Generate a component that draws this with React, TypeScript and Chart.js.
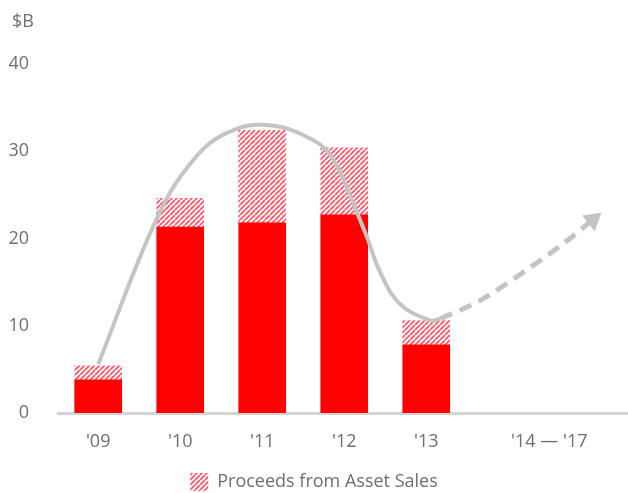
import React, { useEffect, useRef } from "react";
import { Chart, registerables } from "chart.js";

Chart.register(...registerables);

// ---- data ----
const categories = ["'09", "'10", "'11", "'12", "'13", "'14 — '17"];
const categoryPos = [0, 1, 2, 3, 4, 5.5];
const coreValues = [3.8, 21.3, 21.8, 22.7, 7.8];
const assetSalesValues = [1.6, 3.3, 10.6, 7.7, 2.8];
const trendX = [0, 0.72, 1.16, 1.57, 2.06, 2.62, 2.87, 3.11, 3.28, 3.44, 3.68, 4.05, 4.17];
const trendY = [5.6, 22.4, 29.0, 32.1, 33.0, 31.3, 29.0, 24.0, 20.1, 16.1, 12.5, 10.6, 10.8];
const outlookX = [4.17, 4.66, 5.27, 5.67, 6.09];
const outlookY = [10.8, 12.9, 16.7, 19.4, 22.6];
const yTicks = [0, 10, 20, 30, 40];
const unitLabel = "$B";
const legendLabel = "Proceeds from Asset Sales";

const RED = "#fe0000";
const GREY = "#c4c4c4";
const TEXT = "#6f6f6f";
const FONT = "'Open Sans', 'Noto Sans', sans-serif";
const FS = 18;

function makeHatch(): CanvasPattern | string {
  const c = document.createElement("canvas");
  const s = 5;
  c.width = s;
  c.height = s;
  const g = c.getContext("2d");
  if (!g) return RED;
  g.fillStyle = "#ffffff";
  g.fillRect(0, 0, s, s);
  g.strokeStyle = "#ff5566";
  g.lineWidth = 1.8;
  g.beginPath();
  for (let k = -1; k <= 1; k++) {
    g.moveTo(k * s, s);
    g.lineTo(k * s + s, 0);
  }
  g.stroke();
  const p = g.createPattern(c, "repeat");
  return p || RED;
}

export default function App() {
  const ref = useRef<HTMLCanvasElement | null>(null);

  useEffect(() => {
    document.body.style.margin = "0";
    const canvas = ref.current;
    if (!canvas) return;
    const hatch = makeHatch();

    const extraPlugin = {
      id: "extras",
      afterDatasetsDraw(chart: any) {
        const ctx = chart.ctx;
        const meta = chart.getDatasetMeta(3);
        const pts = meta.data;
        if (pts && pts.length > 1) {
          const a = pts[pts.length - 2];
          const b = pts[pts.length - 1];
          const ang = Math.atan2(b.y - a.y, b.x - a.x);
          const len = 17;
          const half = 10;
          const tx = b.x + Math.cos(ang) * 5;
          const ty = b.y + Math.sin(ang) * 5;
          ctx.save();
          ctx.fillStyle = GREY;
          ctx.beginPath();
          ctx.moveTo(tx, ty);
          ctx.lineTo(tx - len * Math.cos(ang) - half * Math.sin(ang), ty - len * Math.sin(ang) + half * Math.cos(ang));
          ctx.lineTo(tx - len * Math.cos(ang) + half * Math.sin(ang), ty - len * Math.sin(ang) - half * Math.cos(ang));
          ctx.closePath();
          ctx.fill();
          ctx.restore();
        }
      },
      afterDraw(chart: any) {
        const ctx = chart.ctx;
        ctx.save();
        ctx.fillStyle = TEXT;
        ctx.font = `${FS}px ${FONT}`;
        ctx.textBaseline = "middle";
        ctx.textAlign = "left";
        ctx.fillText(unitLabel, 12, 22);
        ctx.restore();
      },
    };

    const chart = new Chart(canvas, {
      type: "bar",
      data: {
        datasets: [
          {
            type: "bar",
            label: "Core",
            data: coreValues.map((v, i) => ({ x: categoryPos[i], y: v })),
            backgroundColor: RED,
            borderWidth: 0,
            barThickness: 47,
            stack: "bars",
            order: 2,
          } as any,
          {
            type: "bar",
            label: legendLabel,
            data: assetSalesValues.map((v, i) => ({ x: categoryPos[i], y: v })),
            backgroundColor: hatch,
            borderWidth: 0,
            barThickness: 47,
            stack: "bars",
            order: 2,
          } as any,
          {
            type: "line",
            label: "Trend",
            data: trendX.map((x, i) => ({ x, y: trendY[i] })),
            borderColor: GREY,
            borderWidth: 4,
            pointRadius: 0,
            tension: 0.4,
            fill: false,
            stack: "trend",
            order: 0,
          } as any,
          {
            type: "line",
            label: "Outlook",
            data: outlookX.map((x, i) => ({ x, y: outlookY[i] })),
            borderColor: GREY,
            borderWidth: 5,
            borderDash: [13, 8],
            pointRadius: 0,
            tension: 0.3,
            fill: false,
            stack: "outlook",
            order: 0,
          } as any,
        ],
      },
      options: {
        animation: false,
        responsive: true,
        maintainAspectRatio: false,
        layout: { padding: { top: 64, right: 0, left: 0, bottom: -8 } },
        plugins: {
          tooltip: { enabled: false },
          legend: {
            position: "bottom",
            labels: {
              filter: (item: any) => item.datasetIndex === 1,
              boxWidth: 18,
              boxHeight: 18,
              color: TEXT,
              font: { family: FONT, size: FS },
              padding: 4,
            },
          },
        },
        scales: {
          x: {
            type: "linear",
            min: -0.49,
            max: 6.46,
            offset: false,
            stacked: true,
            grid: { display: false },
            border: { display: true, color: "#d4d4d4", width: 3 },
            afterBuildTicks: (axis: any) => {
              axis.ticks = categoryPos.map((v) => ({ value: v }));
            },
            afterFit: (scale: any) => {
              scale.height = 56;
            },
            ticks: {
              autoSkip: false,
              maxRotation: 0,
              color: TEXT,
              font: { family: FONT, size: FS },
              padding: 10,
              callback: (_v: any, i: number) => categories[i],
            },
          },
          y: {
            stacked: true,
            min: 0,
            max: 40,
            grid: { display: false },
            border: { display: false },
            afterBuildTicks: (axis: any) => {
              axis.ticks = yTicks.map((v) => ({ value: v }));
            },
            afterFit: (scale: any) => {
              scale.width = 58;
            },
            ticks: {
              color: TEXT,
              font: { family: FONT, size: FS },
              padding: 21,
            },
          },
        },
      },
      plugins: [extraPlugin],
    } as any);

    return () => chart.destroy();
  }, []);

  return (
    <div style={{ position: "relative", width: 628, height: 493 }}>
      <canvas ref={ref} />
    </div>
  );
}
